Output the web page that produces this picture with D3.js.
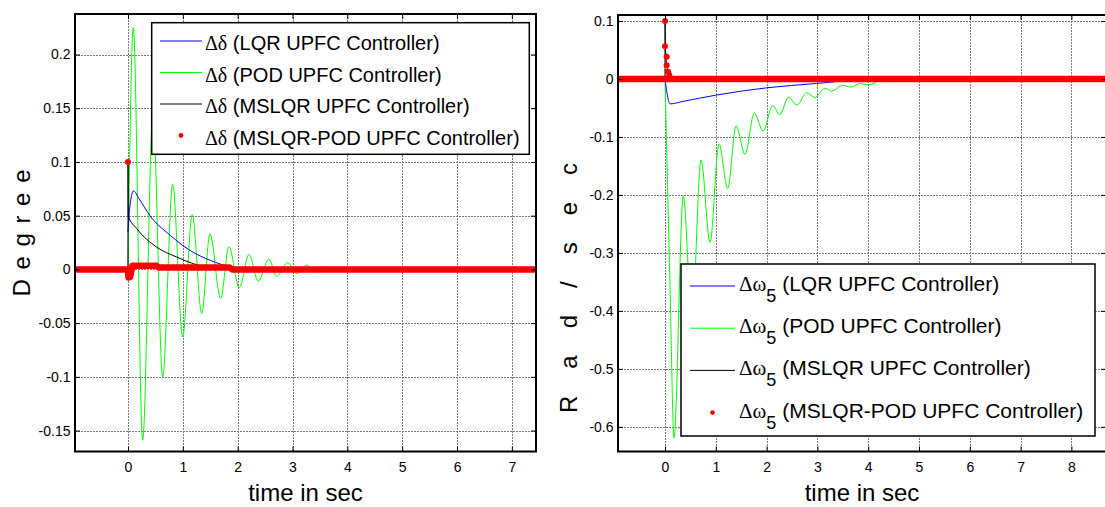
<!DOCTYPE html>
<html>
<head>
<meta charset="utf-8">
<script src="https://cdn.jsdelivr.net/npm/d3@7"></script>
<style>
  html, body { margin: 0; padding: 0; background: #fff; }
  svg { display: block; font-family: "Liberation Sans", Arial, Helvetica, sans-serif; }
</style>
</head>
<body>
<svg id="chart" width="1105" height="507"></svg>
<script>
// ---------- Rotor angle deviation (left panel) ----------
const deltaXTicks = [0, 1, 2, 3, 4, 5, 6, 7];
const deltaXLabels = ["0", "1", "2", "3", "4", "5", "6", "7"];
const deltaYTicks = [-0.15, -0.1, -0.05, 0, 0.05, 0.1, 0.15, 0.2];
const deltaYLabels = ["-0.15", "-0.1", "-0.05", "0", "0.05", "0.1", "0.15", "0.2"];
const deltaXDomain = [-0.966, 7.44];
const deltaYDomain = [-0.1695, 0.2377];

// [time s, deviation]
const deltaLQR = [[0, 0.035], [0.03, 0.056], [0.1, 0.073], [0.2, 0.066], [0.4, 0.050],
  [0.77, 0.0317], [1.13, 0.0177], [1.5, 0.0084], [1.9, 0.002], [2.2, 0]];
const deltaPOD = [[0, 0], [0.097, 0.225], [0.268, -0.159], [0.455, 0.145], [0.633, -0.100],
  [0.815, 0.079], [0.997, -0.063], [1.172, 0.051], [1.344, -0.041], [1.495, 0.033],
  [1.69, -0.027], [1.84, 0.021], [2.03, -0.017], [2.206, 0.014], [2.375, -0.011],
  [2.57, 0.0096], [2.71, -0.0065], [2.91, 0.0062], [3.08, -0.004], [3.26, 0.004],
  [3.43, -0.0025], [3.6, 0.002], [3.75, 0]];
const deltaMSLQR = [[0, 0], [0.0005, 0.1], [0.006, 0.0497], [0.16, 0.038], [0.52, 0.0208],
  [0.89, 0.0115], [1.19, 0.0053], [1.5, 0.0015], [1.8, 0]];
const deltaMSLQRPODTrack = [[-0.966, 0], [0, 0], [0.01, -0.0075], [0.04, -0.007], [0.08, 0.0035],
  [0.52, 0.0035], [0.56, 0.0018], [1.85, 0.0018], [1.9, 0], [7.44, 0]];
const deltaMSLQRPODDots = [[0, 0.1]];
const deltaLegend = ["(LQR UPFC Controller)", "(POD UPFC Controller)",
  "(MSLQR UPFC Controller)", "(MSLQR-POD UPFC Controller)"];

// ---------- Speed deviation of machine 5 (right panel) ----------
const omegaXTicks = [0, 1, 2, 3, 4, 5, 6, 7, 8];
const omegaXLabels = ["0", "1", "2", "3", "4", "5", "6", "7", "8"];
const omegaYTicks = [-0.6, -0.5, -0.4, -0.3, -0.2, -0.1, 0, 0.1];
const omegaYLabels = ["-0.6", "-0.5", "-0.4", "-0.3", "-0.2", "-0.1", "0", "0.1"];
const omegaXDomain = [-0.925, 8.681];
const omegaYDomain = [-0.6426, 0.1103];

const omegaLQR = [[0, 0], [0.1, -0.043], [0.36, -0.0386], [1.0, -0.028], [2.0, -0.0153],
  [2.98, -0.0078], [3.5, -0.0037], [4.1, -0.001]];
const omegaPOD = [[0, 0], [0.1, -0.36], [0.177, -0.619], [0.36, -0.202], [0.53, -0.415],
  [0.709, -0.140], [0.886, -0.282], [1.063, -0.112], [1.234, -0.189], [1.40, -0.081],
  [1.575, -0.130], [1.758, -0.059], [1.93, -0.090], [2.12, -0.046], [2.26, -0.062],
  [2.43, -0.0316], [2.60, -0.045], [2.79, -0.0236], [2.95, -0.032], [3.15, -0.016],
  [3.28, -0.021], [3.5, -0.011], [3.65, -0.014], [3.85, -0.008], [4.0, -0.01], [4.15, -0.006]];
const omegaMSLQR = [[0, 0], [0.0005, 0.1], [0.01, 0.05], [0.03, 0.03], [0.06, 0.01],
  [0.1, 0], [4.1, 0]];
const omegaMSLQRPODTrack = [[-0.925, 0], [0.085, 0.0], [8.681, 0]];
const omegaMSLQRPODDots = [[0, 0.1], [0, 0.0564], [0.033, 0.0384], [0.033, 0.0236],
  [0.06, 0.0126], [0.085, 0.0069]];
const omegaLegend = deltaLegend;

const seriesColors = { lqr: "#0000ff", pod: "#00ff00", mslqr: "#000000", mslqrpod: "#ff0000" };

const svg = d3.select("#chart");

function drawPanel(cfg) {
  const g = svg.append("g");
  const x = d3.scaleLinear().domain(cfg.xDomain).range([cfg.left, cfg.right]);
  const y = d3.scaleLinear().domain(cfg.yDomain).range([cfg.bottom, cfg.top]);

  const clipId = "clip-" + cfg.id;
  svg.append("defs").append("clipPath").attr("id", clipId)
    .append("rect").attr("x", cfg.left).attr("y", cfg.top)
    .attr("width", cfg.right - cfg.left).attr("height", cfg.bottom - cfg.top);

  // dotted grid
  const grid = g.append("g").attr("stroke", "#7a7a7a").attr("stroke-width", 1)
    .attr("stroke-dasharray", "2,1");
  grid.selectAll("line.vx").data(cfg.xTicks).join("line")
    .attr("x1", d => Math.round(x(d)) + 0.5).attr("x2", d => Math.round(x(d)) + 0.5)
    .attr("y1", cfg.top).attr("y2", cfg.bottom);
  grid.selectAll("line.hy").data(cfg.yTicks).join("line")
    .attr("y1", d => Math.round(y(d)) + 0.5).attr("y2", d => Math.round(y(d)) + 0.5)
    .attr("x1", cfg.left).attr("x2", cfg.right);

  // series: thin lines first, MSLQR-POD markers on top
  const plot = g.append("g").attr("clip-path", `url(#${clipId})`);
  const smooth = d3.line().x(d => x(d[0])).y(d => y(d[1])).curve(d3.curveMonotoneX);
  const straight = d3.line().x(d => x(d[0])).y(d => y(d[1]));

  [[cfg.pod, seriesColors.pod], [cfg.lqr, seriesColors.lqr], [cfg.mslqr, seriesColors.mslqr]]
    .forEach(([data, color]) => {
      plot.append("path").datum(data).attr("d", smooth)
        .attr("fill", "none").attr("stroke", color).attr("stroke-width", 1);
    });

  plot.append("path").datum(cfg.track).attr("d", straight)
    .attr("fill", "none").attr("stroke", seriesColors.mslqrpod)
    .attr("stroke-width", 6.5).attr("stroke-linejoin", "round").attr("stroke-linecap", "round");
  plot.selectAll("circle.dot").data(cfg.dots).join("circle")
    .attr("cx", d => x(d[0])).attr("cy", d => y(d[1])).attr("r", 3)
    .attr("fill", seriesColors.mslqrpod);

  // axes with inward ticks on all four sides
  const fontSize = 14;
  const bottomAxis = d3.axisBottom(x).tickValues(cfg.xTicks)
    .tickFormat((d, i) => cfg.xLabels[i]).tickSizeInner(-5).tickSizeOuter(0).tickPadding(10.5);
  const leftAxis = d3.axisLeft(y).tickValues(cfg.yTicks)
    .tickFormat((d, i) => cfg.yLabels[i]).tickSizeInner(-5).tickSizeOuter(0).tickPadding(4.5);
  const topAxis = d3.axisTop(x).tickValues(cfg.xTicks).tickFormat("").tickSizeInner(-5).tickSizeOuter(0);
  const rightAxis = d3.axisRight(y).tickValues(cfg.yTicks).tickFormat("").tickSizeInner(-5).tickSizeOuter(0);

  const axes = [
    [bottomAxis, `translate(0,${cfg.bottom})`],
    [leftAxis, `translate(${cfg.left},0)`],
    [topAxis, `translate(0,${cfg.top})`],
    [rightAxis, `translate(${cfg.right},0)`]
  ];
  axes.forEach(([ax, tr]) => {
    const a = g.append("g").attr("transform", tr).call(ax);
    a.select(".domain").remove();
    a.selectAll(".tick line").attr("stroke", "#000").attr("stroke-width", 1);
    a.selectAll(".tick text").attr("fill", "#000")
      .style("font-family", '"Liberation Sans", Arial, sans-serif').style("font-size", fontSize + "px");
  });

  // axes box
  g.append("rect").attr("x", cfg.left).attr("y", cfg.top)
    .attr("width", cfg.right - cfg.left).attr("height", cfg.bottom - cfg.top)
    .attr("fill", "none").attr("stroke", "#000").attr("stroke-width", 2);

  // axis titles
  g.append("text").attr("x", (cfg.left + cfg.right) / 2).attr("y", 501)
    .attr("text-anchor", "middle").style("font-size", "24px").text("time in sec");
  g.append("text")
    .attr("transform", `translate(${cfg.yTitleX},${cfg.yTitleY}) rotate(-90)`)
    .attr("text-anchor", "middle").style("font-size", "24px")
    .attr("textLength", cfg.yTitleLen).attr("lengthAdjust", "spacing")
    .text(cfg.yTitle);

  // legend
  const L = cfg.legend;
  const lg = g.append("g");
  lg.append("rect").attr("x", L.x).attr("y", L.y).attr("width", L.w).attr("height", L.h)
    .attr("fill", "#fff").attr("stroke", "#000").attr("stroke-width", 1.5);
  const keys = [seriesColors.lqr, seriesColors.pod, seriesColors.mslqr, seriesColors.mslqrpod];
  cfg.legendLabels.forEach((label, i) => {
    const cy = L.row0 + i * L.step;
    if (i < 3) {
      lg.append("line").attr("x1", L.lineX0).attr("x2", L.lineX1)
        .attr("y1", cy).attr("y2", cy).attr("stroke", keys[i]).attr("stroke-width", 1);
    } else {
      lg.append("circle").attr("cx", (L.lineX0 + L.lineX1) / 2).attr("cy", cy)
        .attr("r", 2.4).attr("fill", keys[i]);
    }
    const t = lg.append("text").attr("x", L.textX).attr("y", cy + L.baseOff)
      .style("font-size", L.font + "px").attr("fill", "#000");
    t.append("tspan").style("font-family", '"Liberation Serif", "DejaVu Serif", serif').text(L.symbol);
    if (L.sub) {
      t.append("tspan").attr("dy", L.subDy).style("font-size", L.subFont + "px").text(L.sub);
      t.append("tspan").attr("dy", -L.subDy).text(" " + label);
    } else {
      t.append("tspan").text(" " + label);
    }
  });
}

drawPanel({
  id: "delta", left: 75, right: 536, top: 14, bottom: 451.5,
  xDomain: deltaXDomain, yDomain: deltaYDomain,
  xTicks: deltaXTicks, xLabels: deltaXLabels, yTicks: deltaYTicks, yLabels: deltaYLabels,
  lqr: deltaLQR, pod: deltaPOD, mslqr: deltaMSLQR,
  track: deltaMSLQRPODTrack, dots: deltaMSLQRPODDots,
  yTitle: "D e g r e e", yTitleX: 29.5, yTitleY: 233, yTitleLen: 127,
  legendLabels: deltaLegend,
  legend: { x: 151.7, y: 22.7, w: 377.6, h: 131.6, row0: 41, step: 31.5,
    lineX0: 160, lineX1: 202, textX: 205, baseOff: 9, font: 20, symbol: "\u0394\u03B4" }
});

drawPanel({
  id: "omega", left: 618, right: 1106, top: 15, bottom: 451.5,
  xDomain: omegaXDomain, yDomain: omegaYDomain,
  xTicks: omegaXTicks, xLabels: omegaXLabels, yTicks: omegaYTicks, yLabels: omegaYLabels,
  lqr: omegaLQR, pod: omegaPOD, mslqr: omegaMSLQR,
  track: omegaMSLQRPODTrack, dots: omegaMSLQRPODDots,
  yTitle: "R a d / s e c", yTitleX: 577, yTitleY: 288, yTitleLen: 250,
  legendLabels: omegaLegend,
  legend: { x: 681, y: 264, w: 414, h: 172, row0: 286, step: 42.2,
    lineX0: 690, lineX1: 735, textX: 739, baseOff: 5, font: 21, symbol: "\u0394\u03C9",
    sub: "5", subFont: 18, subDy: 11 }
});
</script>
</body>
</html>
